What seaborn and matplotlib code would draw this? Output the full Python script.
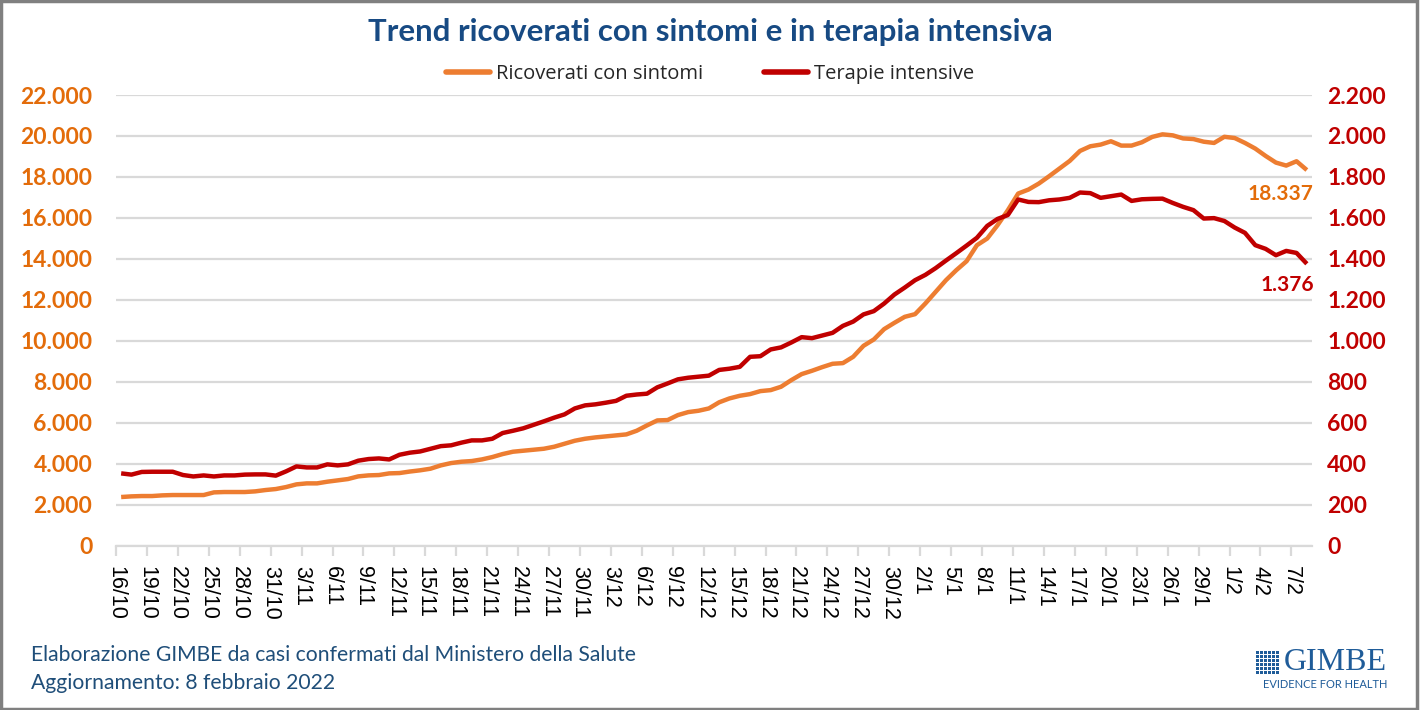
import numpy as np
import pandas as pd
import matplotlib
matplotlib.use("Agg")
import matplotlib.pyplot as plt
from matplotlib.patches import Rectangle
import seaborn as sns

# ---------------- data ----------------
dates = pd.date_range("2021-10-16", "2022-02-08", freq="D")
date_labels = [f"{d.day}/{d.month}" for d in dates]

ricoverati = [
    2376, 2408, 2424, 2424, 2457, 2473, 2473, 2473, 2473, 2603,
    2620, 2620, 2620, 2652, 2717, 2766, 2863, 2994, 3042, 3042,
    3124, 3189, 3254, 3384, 3433, 3449, 3530, 3546, 3620, 3680,
    3758, 3920, 4034, 4099, 4132, 4213, 4327, 4473, 4587, 4636,
    4684, 4733, 4831, 4977, 5123, 5221, 5286, 5335, 5384, 5433,
    5611, 5872, 6115, 6132, 6376, 6522, 6587, 6700, 7000, 7189,
    7318, 7400, 7546, 7595, 7758, 8083, 8376, 8538, 8717, 8880,
    8912, 9221, 9757, 10067, 10571, 10880, 11172, 11302, 11823, 12392,
    12961, 13449, 13888, 14668, 14994, 15644, 16376, 17189, 17384, 17676,
    18034, 18408, 18782, 19270, 19497, 19579, 19741, 19530, 19530, 19692,
    19953, 20080, 20030, 19880, 19850, 19720, 19660, 19960, 19900, 19660,
    19384, 19026, 18701, 18555, 18766, 18337,
]

terapie_intensive = [
    353, 347, 360, 361, 361, 361, 345, 338, 343, 338,
    343, 343, 347, 348, 348, 342, 363, 387, 382, 382,
    397, 392, 397, 415, 423, 426, 421, 444, 454, 460,
    473, 486, 490, 503, 514, 514, 522, 550, 561, 573,
    590, 607, 625, 641, 670, 685, 690, 698, 707, 732,
    738, 742, 773, 792, 812, 820, 825, 830, 858, 864,
    873, 922, 925, 958, 968, 992, 1018, 1013, 1026, 1039,
    1073, 1094, 1129, 1145, 1182, 1226, 1260, 1296, 1322, 1355,
    1392, 1428, 1465, 1503, 1561, 1595, 1614, 1690, 1678, 1677,
    1686, 1690, 1698, 1724, 1721, 1698, 1706, 1714, 1683, 1691,
    1693, 1694, 1673, 1654, 1638, 1597, 1599, 1585, 1553, 1527,
    1467, 1449, 1418, 1439, 1429, 1376,
]

left_ticks = list(range(0, 22001, 2000))
right_ticks = list(range(0, 2201, 200))

title = "Trend ricoverati con sintomi e in terapia intensiva"
series_names = ["Ricoverati con sintomi", "Terapie intensive"]
footer1 = "Elaborazione GIMBE da casi confermati dal Ministero della Salute"
footer2 = "Aggiornamento: 8 febbraio 2022"

# ---------------- style ----------------
sns.set_theme(style="white")
plt.rcParams["font.family"] = ["Lato", "DejaVu Sans"]
plt.rcParams["xtick.labelsize"] = 15.5

ORANGE = "#ED7D31"
ORANGE_TXT = "#E36C0A"
RED = "#C00000"
BLUE = "#1F4E79"
TITLE_BLUE = "#174A83"
GRID = "#D9D9D9"

def it_fmt(v):
    return f"{int(v):,}".replace(",", ".")

fig = plt.figure(figsize=(14.2, 7.1), dpi=100)
ax = fig.add_axes([116 / 1420, 1 - 545.7 / 710, (1312 - 116) / 1420, (545.7 - 95) / 710])
ax2 = ax.twinx()

df = pd.DataFrame({"idx": np.arange(len(dates)),
                   "ric": ricoverati, "ti": terapie_intensive})

sns.lineplot(data=df, x="idx", y="ric", ax=ax, color=ORANGE, linewidth=3.2,
             legend=False)
sns.lineplot(data=df, x="idx", y="ti", ax=ax2, color=RED, linewidth=3.2,
             legend=False)
for l in ax.lines + ax2.lines:
    l.set_solid_capstyle("butt")
    l.set_solid_joinstyle("round")

n = len(dates)
for a in (ax, ax2):
    a.set_xlim(-0.5, n - 0.5)
    a.set_xlabel("")
    a.set_ylabel("")
    for s in a.spines.values():
        s.set_visible(False)

ax.set_ylim(0, 22000)
ax2.set_ylim(0, 2200)
ax.set_yticks(left_ticks)
ax.set_yticklabels([it_fmt(v) for v in left_ticks], color=ORANGE_TXT,
                   fontsize=16.5, fontweight="bold")
ax2.set_yticks(right_ticks)
ax2.set_yticklabels([it_fmt(v) for v in right_ticks], color=RED,
                    fontsize=16.5, fontweight="bold")
ax.tick_params(axis="y", length=0, pad=17)
ax2.tick_params(axis="y", length=0, pad=11)

ax.yaxis.grid(True, color=GRID, linewidth=1.6)
ax.set_axisbelow(True)
ax.spines["bottom"].set_visible(True)
ax.spines["bottom"].set_color(GRID)
ax.spines["bottom"].set_linewidth(1.6)

tick_pos = np.arange(0, n, 3)
ax.set_xticks(tick_pos - 0.5)
ax.set_xticklabels([date_labels[i] for i in tick_pos])
ax.tick_params(axis="x", length=7, width=1.6, color=GRID, pad=7.5, bottom=True,
               labelbottom=True, labelsize=15.5, labelcolor="#000000",
               labelrotation=-90)
ax2.tick_params(axis="x", bottom=False, labelbottom=False, top=False, labeltop=False)
plt.setp(ax.get_xticklabels(), fontsize=15.5,
         family=["Liberation Sans", "DejaVu Sans"], va="top", ha="center")

# end labels
ax.annotate(it_fmt(ricoverati[-1]), xy=(n - 1, ricoverati[-1]),
            xytext=(5, -10), textcoords="offset points", ha="right", va="top",
            color=ORANGE_TXT, fontsize=15, fontweight="bold")
ax2.annotate(it_fmt(terapie_intensive[-1]), xy=(n - 1, terapie_intensive[-1]),
             xytext=(5, -8), textcoords="offset points", ha="right", va="top",
             color=RED, fontsize=15, fontweight="bold")

# title & legend
fig.text(0.5, 1 - 32 / 710, title, ha="center", va="center", color=TITLE_BLUE,
         fontsize=22.4, fontweight="bold")
handles = [plt.Line2D([], [], color=ORANGE, lw=4),
           plt.Line2D([], [], color=RED, lw=4)]
fig.legend(handles, series_names, loc="center", bbox_to_anchor=(0.5, 1 - 74 / 710),
           ncol=2, frameon=False, handlelength=2.2,
           handletextpad=0.3, columnspacing=3.0,
           prop={"family": ["Open Sans", "DejaVu Sans"], "size": 14.5})

# footer
fig.text(31 / 1420, 1 - 655 / 710, footer1, ha="left", va="center",
         color=BLUE, fontsize=15.2)
fig.text(31 / 1420, 1 - 683 / 710, footer2, ha="left", va="center",
         color=BLUE, fontsize=15.2)

# logo
gx0, gy0, cell = 1256, 650, 4.0
for r in range(6):
    for c in range(6):
        fig.patches.append(Rectangle(((gx0 + c * cell) / 1420, 1 - (gy0 + (r + 1) * cell) / 710),
                                     2.7 / 1420, 2.7 / 710,
                                     transform=fig.transFigure, facecolor="#1F5C99",
                                     edgecolor="none", antialiased=False, zorder=5))
fig.text(1284 / 1420, 1 - 662 / 710, "GIMBE", ha="left", va="center",
         color="#1F5C99", fontsize=23, family=["Liberation Serif", "DejaVu Serif"])
fig.text(1325 / 1420, 1 - 685 / 710, "EVIDENCE FOR HEALTH", ha="center",
         va="center", color="#1F5C99", fontsize=8)

# chart border
fig.patches.append(Rectangle((0.001, 0.001), 0.997, 0.997, transform=fig.transFigure,
                             fill=False, edgecolor="#808080", linewidth=2.5))

fig.savefig("out.png", dpi=100, facecolor="white")
